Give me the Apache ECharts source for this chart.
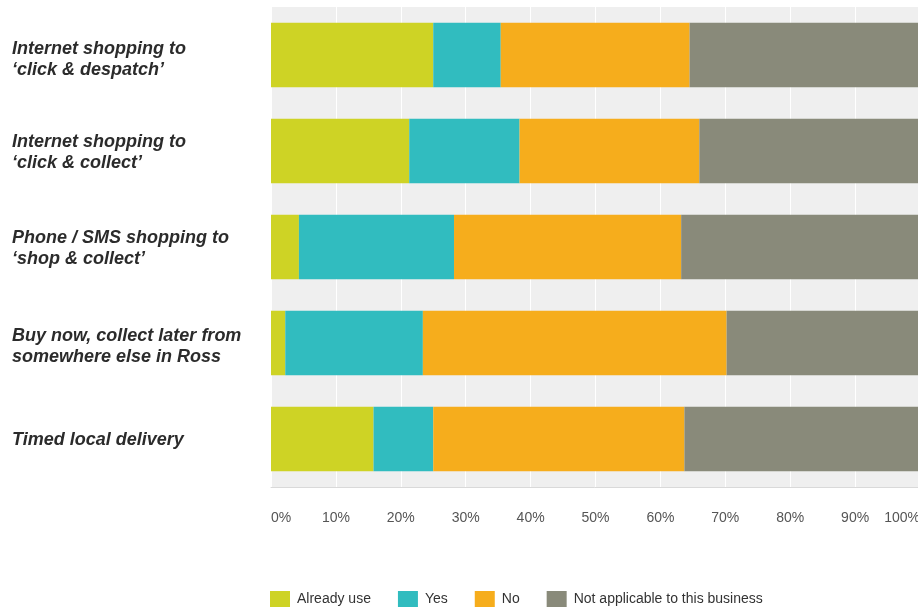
<!DOCTYPE html>
<html>
<head>
<meta charset="utf-8">
<script src="https://cdn.jsdelivr.net/npm/echarts@6/dist/echarts.min.js"></script>
<style>
  html, body { margin: 0; padding: 0; background: #ffffff; }
  #chart { width: 918px; height: 607px; }
</style>
</head>
<body>
<div id="chart"></div>
<script>
// Delivery / collection options, top to bottom
const categories = [
  "Internet shopping to\n\u2018click & despatch\u2019",
  "Internet shopping to\n\u2018click & collect\u2019",
  "Phone / SMS shopping to\n\u2018shop & collect\u2019",
  "Buy now, collect later from\nsomewhere else in Ross",
  "Timed local delivery"
];

// Share of respondents (%) per answer
const alreadyUse    = [25.0, 21.3, 4.3, 2.2, 15.8];
const yes           = [10.4, 17.0, 23.9, 21.2, 9.2];
const no            = [29.1, 27.7, 35.0, 46.8, 38.7];
const notApplicable = [35.5, 34.0, 36.8, 29.8, 36.3];

const seriesNames = ["Already use", "Yes", "No", "Not applicable to this business"];
const seriesColors = ["#ced325", "#31bcbf", "#f6ad1c", "#898a7a"];
const seriesData = [alreadyUse, yes, no, notApplicable];

// Category label styling: every line is bottom-aligned in its line box; the
// first line's box may be taller so the text block sits a little lower.
const labelFont = {
  fontFamily: "'Liberation Sans', Arial, sans-serif",
  fontSize: 18,
  fontWeight: "bold",
  fontStyle: "italic",
  lineHeight: 21,
  color: "#2b2b2b"
};
const labelInsets = [7, 0, 1, 5, 0];
const labelRich = { t: Object.assign({}, labelFont, { verticalAlign: "bottom" }) };
labelInsets.forEach((inset, i) => {
  labelRich["f" + i] = Object.assign({}, labelFont, { lineHeight: 21 + inset, verticalAlign: "bottom" });
});

const chart = echarts.init(document.getElementById("chart"), null, { renderer: "canvas" });

chart.setOption({
  animation: false,
  backgroundColor: "#ffffff",
  grid: {
    left: 271,
    top: 7,
    width: 649,
    height: 480,
    show: true,
    backgroundColor: "#efefef",
    borderWidth: 0,
    outerBoundsMode: "none"
  },
  legend: {
    data: seriesNames,
    left: 265,
    top: 586,
    icon: "rect",
    itemWidth: 20,
    itemHeight: 16,
    itemGap: 27,
    textStyle: {
      fontFamily: "'Liberation Sans Narrow', 'Liberation Sans', Arial, sans-serif",
      fontSize: 14,
      color: "#333333",
      padding: [0, 0, 0, 2]
    }
  },
  xAxis: {
    type: "value",
    min: 0,
    max: 100,
    interval: 10,
    axisLine: { show: true, lineStyle: { color: "#d9d9d9", width: 1 } },
    axisTick: { show: false },
    splitLine: { show: true, lineStyle: { color: "#ffffff", width: 1 } },
    axisLabel: {
      formatter: "{value}%",
      margin: 24,
      alignMinLabel: "left",
      alignMaxLabel: "right",
      fontFamily: "'Liberation Sans Narrow', 'Liberation Sans', Arial, sans-serif",
      fontSize: 14,
      color: "#555555"
    }
  },
  yAxis: {
    type: "category",
    data: categories,
    inverse: true,
    axisLine: { show: false },
    axisTick: { show: false },
    splitLine: { show: false },
    axisLabel: Object.assign({}, labelFont, {
      align: "left",
      margin: 259,
      formatter: (value, index) => value.split("\n")
        .map((line, k) => (k === 0 ? "{f" + index + "|" : "{t|") + line + "}")
        .join("\n"),
      rich: labelRich
    })
  },
  series: seriesNames.map((name, i) => ({
    name: name,
    type: "bar",
    stack: "total",
    barCategoryGap: "33%",
    data: seriesData[i],
    itemStyle: { color: seriesColors[i] }
  }))
});
</script>
</body>
</html>
